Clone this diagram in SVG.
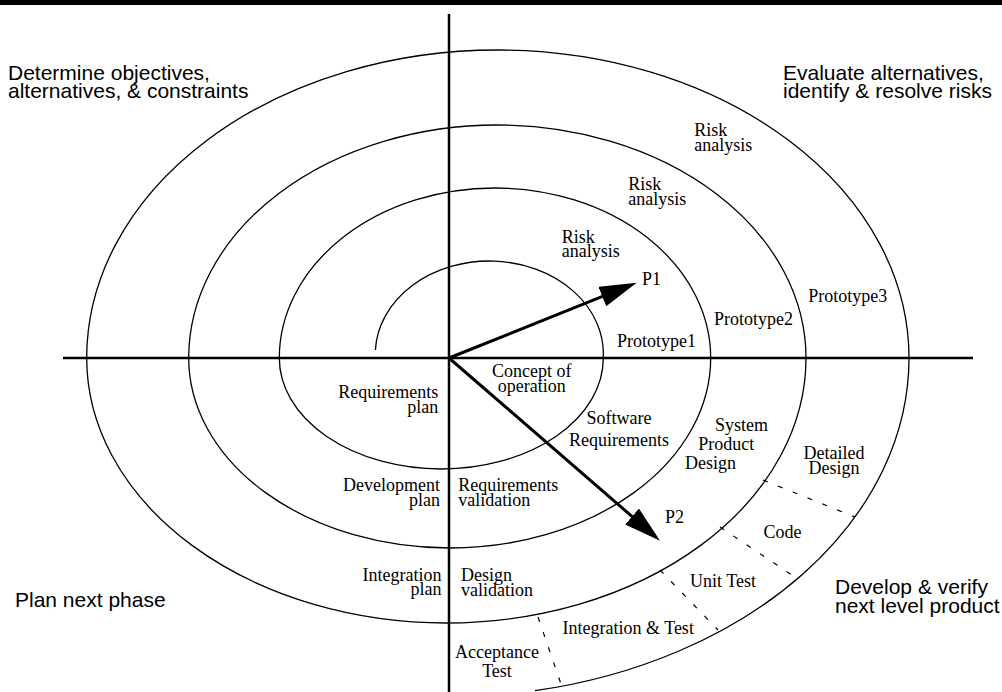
<svg xmlns="http://www.w3.org/2000/svg" width="1002" height="692" viewBox="0 0 1002 692">
<style>
.ser{font-family:"Liberation Serif","Times New Roman",serif;font-size:18px;fill:#000}
.san{font-family:"Liberation Sans",Arial,sans-serif;font-size:21px;fill:#000}
.mid{text-anchor:middle}
.end{text-anchor:end}
.axis{stroke:#000;stroke-width:2.5;fill:none}
.spiral{stroke:#000;stroke-width:1.3;fill:none}
.dash{stroke:#000;stroke-width:1.2;stroke-dasharray:5 11;fill:none}
.arrow{stroke:#000;stroke-width:3;fill:none}
</style>
<defs>
<marker id="head" viewBox="0 0 37 21" refX="17" refY="10.5" markerWidth="37" markerHeight="21" markerUnits="userSpaceOnUse" orient="auto">
<path d="M0,0 L37,10.5 L0,21 z" fill="#000"/>
</marker>
</defs>
<rect x="0" y="0" width="1002" height="692" fill="#fff"/>
<rect id="topbar" x="0" y="0" width="1002" height="5" fill="#000"/>
<g id="axes">
<line class="axis" x1="449" y1="14" x2="449" y2="692"/>
<line class="axis" x1="63" y1="358" x2="973" y2="358"/>
</g>
<g id="spiral">
<path class="spiral" d="M375.4,350 A114,93 0 0 1 603.3,358 A162,111 0 0 1 279.3,358 A215.7,170 0 0 1 710.7,358 A261,190 0 0 1 188.7,358 A308.65,233 0 0 1 806,358 A359.65,265 0 0 1 86.7,358 A411.15,308 0 0 1 909,358 A463,339 0 0 1 535,690.7"/>
</g>
<g id="connectors">
<line class="arrow" x1="449" y1="358" x2="618.1" y2="290.2" marker-end="url(#head)"/>
<line class="arrow" x1="449" y1="358" x2="644.9" y2="527.6" marker-end="url(#head)"/>
<line class="dash" x1="763" y1="480" x2="855" y2="517"/>
<line class="dash" x1="720" y1="527" x2="798" y2="579"/>
<line class="dash" x1="660" y1="570" x2="718" y2="630"/>
<line class="dash" x1="538" y1="617" x2="562" y2="687"/>
</g>
<g id="quadrant-labels">
<text class="san" x="8" y="79.5">Determine objectives,</text>
<text class="san" x="8" y="97.5">alternatives, &amp; constraints</text>
<text class="san" x="783" y="79.5">Evaluate alternatives,</text>
<text class="san" x="783" y="97.5">identify &amp; resolve risks</text>
<text class="san" x="15" y="607.3">Plan next phase</text>
<text class="san" x="835" y="594">Develop &amp; verify</text>
<text class="san" x="835" y="613">next level product</text>
</g>
<g id="risk-analysis-3"><text class="ser" x="694.3" y="136">Risk</text><text class="ser" x="694.3" y="151">analysis</text></g>
<g id="risk-analysis-2"><text class="ser" x="628.3" y="190">Risk</text><text class="ser" x="628.3" y="205">analysis</text></g>
<g id="risk-analysis-1"><text class="ser" x="561.7" y="242.7">Risk</text><text class="ser" x="561.7" y="257.3">analysis</text></g>
<g id="p1"><text class="ser" x="642" y="285">P1</text></g>
<g id="p2"><text class="ser" x="665" y="523">P2</text></g>
<g id="prototype1"><text class="ser" x="617" y="346.7">Prototype1</text></g>
<g id="prototype2"><text class="ser" x="714" y="325">Prototype2</text></g>
<g id="prototype3"><text class="ser" x="808.3" y="301.7">Prototype3</text></g>
<g id="concept"><text class="ser mid" x="531.7" y="377.3">Concept of</text><text class="ser mid" x="531.7" y="391.5">operation</text></g>
<g id="requirements-plan"><text class="ser end" x="438.3" y="398.3">Requirements</text><text class="ser end" x="438.3" y="413.3">plan</text></g>
<g id="software-requirements"><text class="ser mid" x="619" y="424">Software</text><text class="ser mid" x="619" y="446">Requirements</text></g>
<g id="development-plan"><text class="ser end" x="440" y="491">Development</text><text class="ser end" x="440" y="506">plan</text></g>
<g id="requirements-validation"><text class="ser" x="458.3" y="491">Requirements</text><text class="ser" x="458.3" y="506">validation</text></g>
<g id="system-product-design"><text class="ser" x="715" y="431">System</text><text class="ser" x="698.3" y="450">Product</text><text class="ser" x="685" y="469">Design</text></g>
<g id="detailed-design"><text class="ser mid" x="834" y="459">Detailed</text><text class="ser mid" x="834" y="473.5">Design</text></g>
<g id="code"><text class="ser" x="763.5" y="538.3">Code</text></g>
<g id="unit-test"><text class="ser" x="690" y="587.3">Unit Test</text></g>
<g id="integration-plan"><text class="ser end" x="441.5" y="580.5">Integration</text><text class="ser end" x="441.5" y="595">plan</text></g>
<g id="design-validation"><text class="ser" x="461" y="580.5">Design</text><text class="ser" x="461" y="595.5">validation</text></g>
<g id="integration-test"><text class="ser" x="562.5" y="634">Integration &amp; Test</text></g>
<g id="acceptance-test"><text class="ser mid" x="497" y="658.3">Acceptance</text><text class="ser mid" x="497" y="677.3">Test</text></g>
</svg>
